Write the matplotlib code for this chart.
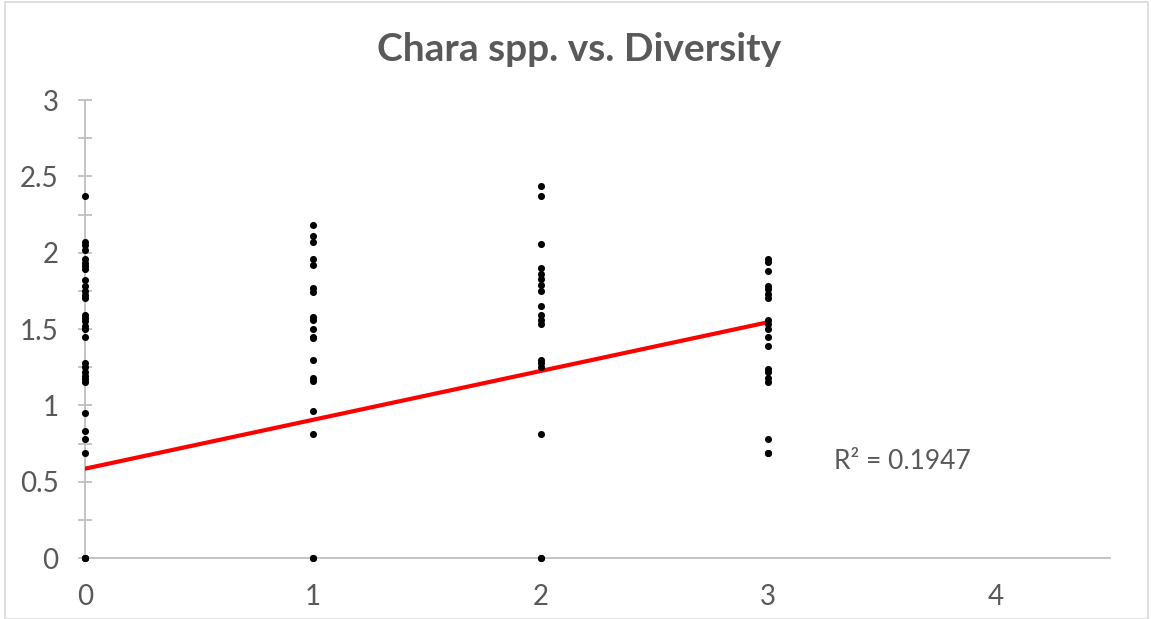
import matplotlib
matplotlib.use("Agg")
from matplotlib import pyplot as plt
from matplotlib.patches import Rectangle
import numpy as np

# Diversity class (x) and Chara spp. value (y) per sample
diversity_0 = [2.37, 2.07, 2.05, 2.02, 1.96, 1.93, 1.91, 1.89, 1.82, 1.78, 1.75,
               1.72, 1.70, 1.59, 1.57, 1.55, 1.52, 1.50, 1.45, 1.28, 1.25, 1.22,
               1.19, 1.17, 1.15, 0.95, 0.83, 0.78, 0.69, 0.0, 0.0, 0.0]
diversity_1 = [2.18, 2.11, 2.07, 1.96, 1.92, 1.77, 1.74, 1.58, 1.56, 1.50, 1.45,
               1.44, 1.30, 1.18, 1.16, 0.96, 0.81, 0.0, 0.0]
diversity_2 = [2.44, 2.37, 2.06, 1.90, 1.86, 1.83, 1.79, 1.75, 1.65, 1.59, 1.56,
               1.53, 1.30, 1.28, 1.25, 0.81, 0.0, 0.0]
diversity_3 = [1.96, 1.94, 1.88, 1.78, 1.76, 1.73, 1.70, 1.56, 1.53, 1.50, 1.45,
               1.39, 1.24, 1.22, 1.18, 1.15, 0.78, 0.69, 0.69]
groups = [diversity_0, diversity_1, diversity_2, diversity_3]

x_ticks = [0, 1, 2, 3, 4]
y_ticks = [0, 0.5, 1, 1.5, 2, 2.5, 3]
y_tick_labels = ["0", "0.5", "1", "1.5", "2", "2.5", "3"]

# Linear trendline
trend_intercept = 0.585
trend_slope = 0.32
r_squared = 0.1947

TEXT = "#595959"
AXIS = "#BFBFBF"
FONT = "Lato"

fig = plt.figure(figsize=(11.51, 6.19), dpi=100)
ax = fig.add_axes([0.0738, 0.0985, 0.8906, 0.7399])

x = np.concatenate([np.full(len(g), i) for i, g in enumerate(groups)])
y = np.concatenate(groups)
ax.scatter(x, y, s=26, color="black", zorder=4, clip_on=False, linewidths=0)

xs = np.array([0, len(groups) - 1])
ax.plot(xs, trend_intercept + trend_slope * xs, color="#FF0000", lw=3, zorder=3)

ax.text(3.29, 0.63, f"R² = {r_squared:.4f}", fontsize=19, color=TEXT,
        family=FONT, ha="left", va="center")

ax.set_xlim(0, 4.5)
ax.set_ylim(0, 3)
ax.set_xticks(x_ticks)
ax.set_xticklabels([str(v) for v in x_ticks])
ax.set_yticks(y_ticks)
ax.set_yticklabels(y_tick_labels)
ax.set_yticks(np.arange(0.25, 3, 0.5), minor=True)

for side in ("top", "right"):
    ax.spines[side].set_visible(False)
for side in ("left", "bottom"):
    ax.spines[side].set_color(AXIS)
    ax.spines[side].set_linewidth(1.3)

ax.tick_params(axis="x", length=0, pad=19, labelsize=20, labelcolor=TEXT)
ax.tick_params(axis="y", which="both", direction="inout", length=10,
               width=1.3, color=AXIS, pad=14, labelsize=20, labelcolor=TEXT)
for lbl in ax.get_xticklabels() + ax.get_yticklabels():
    lbl.set_family(FONT)

fig.suptitle("Chara spp. vs. Diversity", x=0.503, y=0.948, fontsize=28,
             fontweight="bold", color=TEXT, family=FONT)

fig.patches.append(Rectangle((0.004, 0.0), 0.993, 0.997, transform=fig.transFigure,
                             fill=False, edgecolor="#D9D9D9", lw=1.2))

plt.savefig("out.png", dpi=100)
plt.close()
